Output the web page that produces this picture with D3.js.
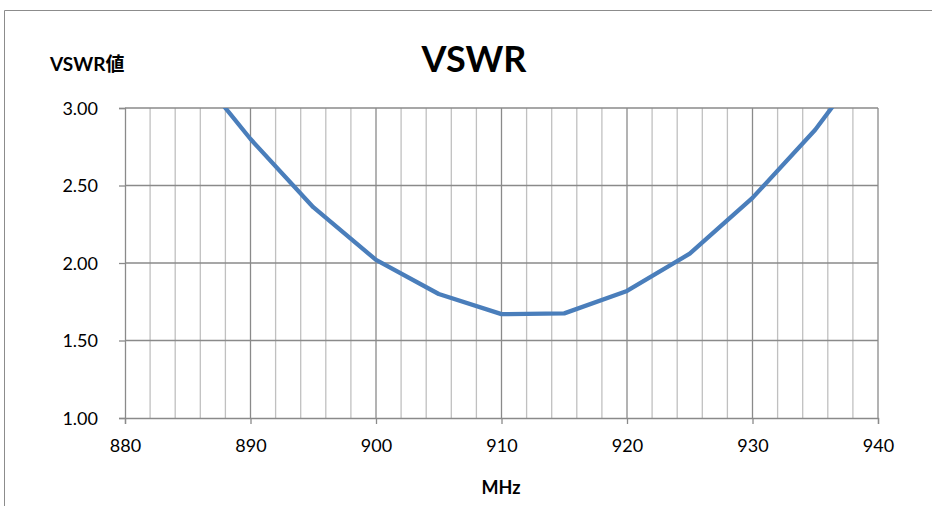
<!DOCTYPE html>
<html>
<head>
<meta charset="utf-8">
<script src="https://cdn.jsdelivr.net/npm/d3@7"></script>
<style>
  body { margin: 0; background: #fff; }
  svg { display: block; }
  text { font-family: Lato, "Noto Sans CJK JP", sans-serif; fill: #000; }
</style>
</head>
<body>
<svg id="chart" width="932" height="506"></svg>
<script>
// frequency (MHz) and VSWR readings
var freqs = [885, 890, 895, 900, 905, 910, 915, 920, 925, 930, 935, 940];
var vswr = [3.30, 2.80, 2.36, 2.02, 1.80, 1.67, 1.675, 1.82, 2.06, 2.42, 2.86, 3.40];
var xTicks = [880, 890, 900, 910, 920, 930, 940];
var yTicks = [1.0, 1.5, 2.0, 2.5, 3.0];

var svg = d3.select("#chart"),
  plotLeft = 125, plotRight = 878, plotTop = 108, plotBottom = 418;

var x = d3.scaleLinear().domain([880, 940]).range([plotLeft, plotRight]),
  y = d3.scaleLinear().domain([1, 3]).range([plotBottom, plotTop]);

// outer chart frame
svg.append("path")
  .attr("d", "M4.5,506 V10.5 H932")
  .attr("fill", "none")
  .attr("stroke", "#8c8c8c")
  .attr("stroke-width", 1);

// minor vertical grid every 2 MHz
svg.append("g")
  .selectAll("line")
  .data(d3.range(882, 940, 2).filter(function(d) { return d % 10 !== 0; }))
  .join("line")
  .attr("x1", function(d) { return x(d); })
  .attr("x2", function(d) { return x(d); })
  .attr("y1", plotTop)
  .attr("y2", plotBottom)
  .attr("stroke", "#c0c0c0")
  .attr("stroke-width", 1.3);

// major vertical grid
svg.append("g")
  .selectAll("line")
  .data(xTicks.slice(1))
  .join("line")
  .attr("x1", function(d) { return x(d); })
  .attr("x2", function(d) { return x(d); })
  .attr("y1", plotTop)
  .attr("y2", plotBottom)
  .attr("stroke", "#8a8a8a")
  .attr("stroke-width", 1.3);

// horizontal grid
svg.append("g")
  .selectAll("line")
  .data(yTicks.slice(1))
  .join("line")
  .attr("x1", plotLeft)
  .attr("x2", plotRight)
  .attr("y1", function(d) { return y(d); })
  .attr("y2", function(d) { return y(d); })
  .attr("stroke", "#8a8a8a")
  .attr("stroke-width", 1.3);

// axes
var xAxis = svg.append("g")
  .attr("transform", "translate(0," + plotBottom + ")")
  .call(d3.axisBottom(x).tickValues(xTicks).tickSize(6).tickPadding(11)
    .tickFormat(d3.format("d")));
var yAxis = svg.append("g")
  .attr("transform", "translate(" + plotLeft + ",0)")
  .call(d3.axisLeft(y).tickValues(yTicks).tickSize(6).tickPadding(21)
    .tickFormat(d3.format(".2f")));

[xAxis, yAxis].forEach(function(a) {
  a.select(".domain").attr("stroke", "#8a8a8a").attr("stroke-width", 1.3);
  a.selectAll(".tick line").attr("stroke", "#8a8a8a").attr("stroke-width", 1.3);
  a.selectAll("text").style("font-size", "18px").attr("fill", "#000");
});
yAxis.selectAll("text").attr("dy", "0.35em");
xAxis.selectAll("text").attr("dy", "0.95em");

// clip for the series
svg.append("clipPath").attr("id", "plot")
  .append("rect")
  .attr("x", plotLeft).attr("y", plotTop)
  .attr("width", plotRight - plotLeft).attr("height", plotBottom - plotTop);

var line = d3.line()
  .x(function(d, i) { return x(freqs[i]); })
  .y(function(d) { return y(d); });

svg.append("path")
  .datum(vswr)
  .attr("clip-path", "url(#plot)")
  .attr("d", line)
  .attr("fill", "none")
  .attr("stroke", "#4a7ebb")
  .attr("stroke-width", 4.3)
  .attr("stroke-linejoin", "round");

// titles
svg.append("text")
  .attr("x", 474).attr("y", 72)
  .attr("text-anchor", "middle")
  .style("font-size", "36px").style("font-weight", "bold")
  .text("VSWR");

svg.append("text")
  .attr("x", 50).attr("y", 71)
  .style("font-size", "19px").style("font-weight", "bold")
  .text("VSWR値");

svg.append("text")
  .attr("x", 501).attr("y", 494)
  .attr("text-anchor", "middle")
  .style("font-size", "18px").style("font-weight", "bold")
  .text("MHz");
</script>
</body>
</html>
